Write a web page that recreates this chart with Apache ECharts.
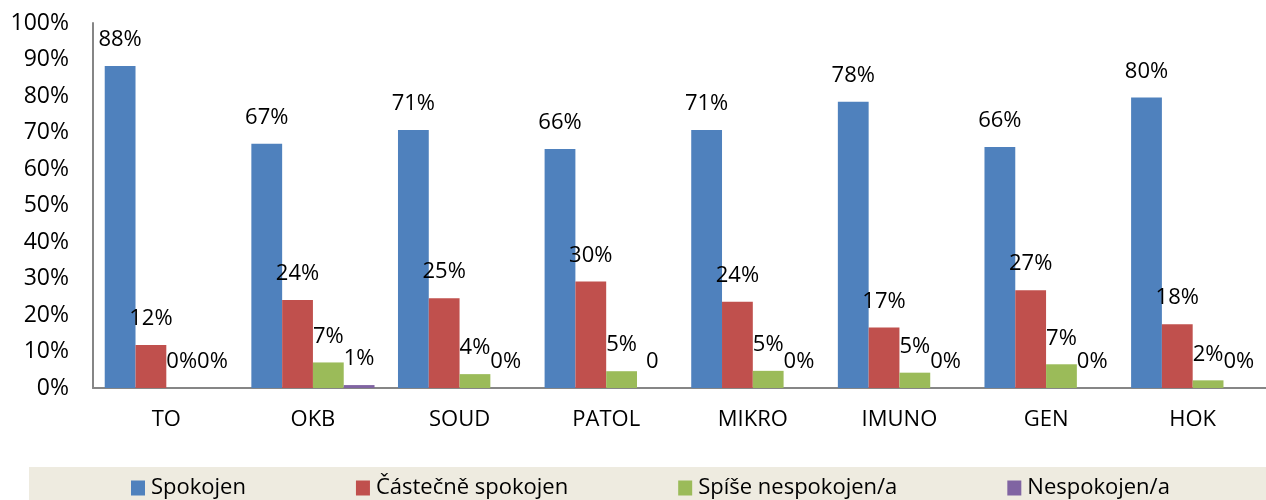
<!DOCTYPE html>
<html>
<head>
<meta charset="utf-8">
<script src="https://cdn.jsdelivr.net/npm/echarts@6/dist/echarts.min.js"></script>
<style>
  html, body { margin: 0; padding: 0; background: #fff; }
  #chart { width: 1266px; height: 500px; }
</style>
</head>
<body>
<div id="chart"></div>
<script>
const categories = ['TO', 'OKB', 'SOUD', 'PATOL', 'MIKRO', 'IMUNO', 'GEN', 'HOK'];
const seriesNames = ['Spokojen', 'Částečně spokojen', 'Spíše nespokojen/a', 'Nespokojen/a'];
const colors = ['#4F81BD', '#C0504D', '#9BBB59', '#8064A2'];

const spokojen = [88.2, 66.9, 70.7, 65.5, 70.7, 78.4, 66.0, 79.6];
const castecne = [11.8, 24.1, 24.6, 29.2, 23.6, 16.6, 26.8, 17.5];
const spiseNe  = [0, 7.0, 3.8, 4.6, 4.7, 4.2, 6.5, 2.1];
const nespokojen = [0, 0.8, 0, 0, 0, 0, 0, 0];

const labelsSpokojen = ['88%', '67%', '71%', '66%', '71%', '78%', '66%', '80%'];
const labelsCastecne = ['12%', '24%', '25%', '30%', '24%', '17%', '27%', '18%'];
const labelsSpiseNe  = ['0%', '7%', '4%', '5%', '5%', '5%', '7%', '2%'];
const labelsNespokojen = ['0%', '1%', '0%', '0', '0%', '0%', '0%', '0%'];

const yTicks = [0, 10, 20, 30, 40, 50, 60, 70, 80, 90, 100];

const values = [spokojen, castecne, spiseNe, nespokojen];
const labels = [labelsSpokojen, labelsCastecne, labelsSpiseNe, labelsNespokojen];

const font = 'Open Sans';
const chart = echarts.init(document.getElementById('chart'));

const option = {
    animation: false,
    backgroundColor: '#fff',
    graphic: [{
        type: 'rect',
        left: 29, top: 467,
        shape: { width: 1237, height: 33 },
        style: { fill: '#EEEBE0' },
        z: -1
    }],
    grid: { left: 93, top: 23, width: 1183, height: 365 },
    legend: {
        left: 126, top: 472,
        itemWidth: 14, itemHeight: 15, itemGap: 110,
        icon: 'rect',
        textStyle: { fontFamily: font, fontSize: 22, color: '#000', padding: [0, 0, 0, 1] },
        data: seriesNames
    },
    xAxis: {
        type: 'category',
        data: categories,
        axisLine: { lineStyle: { color: '#868686', width: 2 } },
        axisTick: { show: false },
        axisLabel: { fontFamily: font, fontSize: 22, color: '#000', margin: 21 }
    },
    yAxis: {
        type: 'value',
        min: 0, max: 100, interval: 10,
        axisLine: { show: true, lineStyle: { color: '#868686', width: 2 } },
        axisTick: { show: false },
        splitLine: { show: false },
        axisLabel: {
            fontFamily: font, fontSize: 23, color: '#000', margin: 24,
            formatter: v => yTicks.includes(v) ? v + '%' : ''
        }
    },
    series: seriesNames.map((name, s) => ({
        name: name,
        type: 'bar',
        barGap: 0,
        barCategoryGap: '16%',
        itemStyle: { color: colors[s] },
        label: {
            show: true,
            position: 'top',
            distance: 15,
            fontFamily: font, fontSize: 22, color: '#000',
            formatter: p => labels[s][p.dataIndex]
        },
        data: values[s]
    }))
};

chart.setOption(option);
</script>
</body>
</html>
